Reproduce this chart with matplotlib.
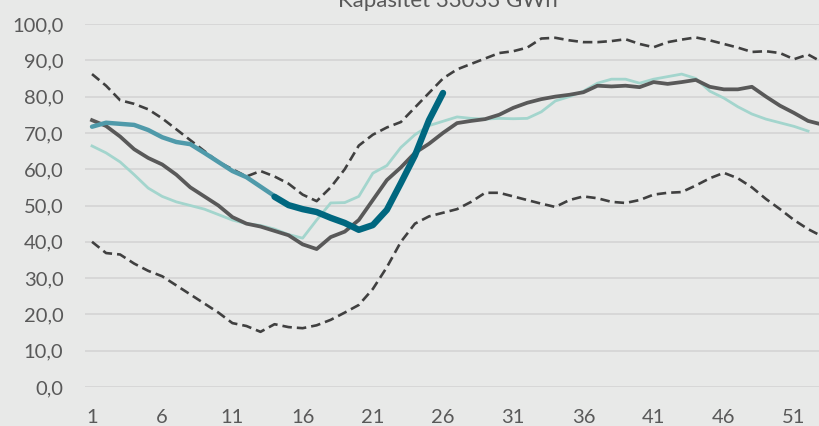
import numpy as np
import matplotlib
matplotlib.use("Agg")
import matplotlib.pyplot as plt

# Fyllingsgrad per uke (%)
weeks = np.arange(1, 54)

max_vals = [86.2, 83.0, 79.0, 78.0, 76.5, 74.0, 71.0, 68.0, 65.0, 62.0,
            60.0, 58.0, 59.5, 58.0, 56.0, 53.0, 51.2, 55.0, 60.0, 66.5,
            69.5, 71.5, 73.0, 77.0, 81.0, 85.0, 87.5, 89.0, 90.5, 92.0,
            92.5, 93.5, 96.0, 96.2, 95.5, 95.0, 95.0, 95.3, 95.8, 94.5,
            93.6, 95.0, 95.7, 96.3, 95.5, 94.5, 93.5, 92.3, 92.5, 92.0,
            90.3, 91.6, 89.5]

min_vals = [40.0, 36.9, 36.5, 34.0, 32.0, 30.5, 28.0, 25.5, 23.0, 20.5,
            17.6, 16.8, 15.2, 17.3, 16.5, 16.2, 17.0, 18.5, 20.5, 22.6,
            27.0, 33.0, 40.0, 45.0, 47.0, 48.0, 49.0, 51.0, 53.5, 53.5,
            52.5, 51.5, 50.5, 49.6, 51.5, 52.5, 52.0, 51.0, 50.7, 51.5,
            53.0, 53.5, 53.7, 55.5, 57.5, 59.0, 57.5, 55.0, 51.8, 49.0,
            46.0, 43.5, 41.5]

median_vals = [73.5, 71.9, 69.0, 65.5, 63.1, 61.3, 58.5, 55.0, 52.5, 50.0,
               46.8, 45.0, 44.2, 43.0, 41.8, 39.3, 38.0, 41.3, 42.8, 46.0,
               51.5, 57.0, 60.5, 64.5, 67.0, 70.0, 72.7, 73.3, 73.8, 75.0,
               76.9, 78.3, 79.3, 80.0, 80.5, 81.2, 83.0, 82.8, 83.0, 82.6,
               84.0, 83.5, 84.0, 84.6, 82.7, 82.0, 82.0, 82.7, 80.0, 77.5,
               75.5, 73.3, 72.3]

last_year = [66.4, 64.5, 62.0, 58.5, 54.8, 52.5, 51.0, 50.0, 49.0, 47.5,
             46.0, 45.0, 44.5, 43.5, 42.0, 41.0, 46.0, 50.7, 50.8, 52.5,
             58.9, 61.0, 66.0, 69.5, 72.0, 73.2, 74.4, 74.0, 73.8, 74.0,
             73.9, 74.0, 75.8, 78.8, 80.0, 81.5, 83.7, 84.8, 84.8, 83.7,
             84.8, 85.5, 86.2, 85.0, 81.5, 79.6, 77.2, 75.2, 73.8, 72.8,
             71.8, 70.5]

this_year_early = [71.7, 72.8, 72.5, 72.2, 70.8, 68.8, 67.5, 66.9, 64.5, 62.0,
                   59.5, 57.8, 55.2, 52.6]

this_year = [52.4, 50.1, 49.0, 48.2, 46.6, 45.2, 43.3, 44.6, 48.8, 56.2,
             63.8, 73.5, 81.0]
this_year_weeks = np.arange(14, 27)

title = "Kapasitet 33033 GWh"
bg = "#e8e9e8"
txt = "#595959"

plt.rcParams['font.family'] = ['Lato', 'DejaVu Sans']

fig = plt.figure(figsize=(8.19, 4.26), dpi=100, facecolor=bg)
ax = fig.add_axes([85 / 819, 39 / 426, 734 / 819, 363 / 426])
ax.set_facecolor(bg)

ax.plot(weeks, max_vals, color="#404040", lw=1.9, ls=(0, (3.6, 1.9)))
ax.plot(weeks, min_vals, color="#404040", lw=1.9, ls=(0, (3.6, 1.9)))
ax.plot(weeks[:52], last_year, color="#a3d5cd", lw=2.0)
ax.plot(weeks, median_vals, color="#595959", lw=2.7)
ax.plot(weeks[:14], this_year_early, color="#4f9aaa", lw=3.2,
        solid_capstyle="round")
ax.plot(this_year_weeks, this_year, color="#00677f", lw=4.6,
        solid_capstyle="round")

ax.set_xlim(0.5, 0.5 + 734 / 14.04)
ax.set_ylim(0, 100)
ax.set_yticks(np.arange(0, 101, 10))
ax.set_yticklabels([f"{v:.1f}".replace(".", ",") for v in range(0, 101, 10)])
ax.set_xticks(np.arange(1, 53, 5))
ax.grid(axis="y", color="#d6d6d6", lw=1.3)
ax.set_axisbelow(True)
for s in ax.spines.values():
    s.set_visible(False)
ax.tick_params(length=0, labelsize=14.5, colors=txt)
ax.tick_params(axis="y", pad=15.5)
ax.tick_params(axis="x", pad=15.5)

fig.text(448 / 819, 1 - 7 / 426, title, ha="center", va="baseline",
         fontsize=16, color=txt)

fig.savefig("out.png", dpi=100, facecolor=bg)
